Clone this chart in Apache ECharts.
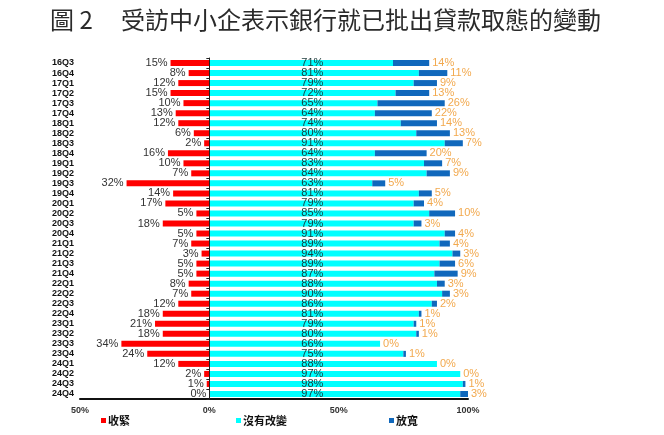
<!DOCTYPE html>
<html><head><meta charset="utf-8">
<script src="https://cdn.jsdelivr.net/npm/echarts@6/dist/echarts.min.js"></script>
<style>html,body{margin:0;padding:0;background:#fff}#c{width:664px;height:435px}</style>
</head><body><div id="c"></div>
<script>
const categories = ['16Q3','16Q4','17Q1','17Q2','17Q3','17Q4','18Q1','18Q2','18Q3','18Q4','19Q1','19Q2','19Q3','19Q4','20Q1','20Q2','20Q3','20Q4','21Q1','21Q2','21Q3','21Q4','22Q1','22Q2','22Q3','22Q4','23Q1','23Q2','23Q3','23Q4','24Q1','24Q2','24Q3','24Q4'];
const tighten = [15,8,12,15,10,13,12,6,2,16,10,7,32,14,17,5,18,5,7,3,5,5,8,7,12,18,21,18,34,24,12,2,1,0];
const noChange = [71,81,79,72,65,64,74,80,91,64,83,84,63,81,79,85,79,91,89,94,89,87,88,90,86,81,79,80,66,75,88,97,98,97];
const loosen = [14,11,9,13,26,22,14,13,7,20,7,9,5,5,4,10,3,4,4,3,6,9,3,3,2,1,1,1,0,1,0,0,1,3];
const xTicks = [-50, 0, 50, 100];
const titleNum = '圖 2';
const titleText = '受訪中小企表示銀行就已批出貸款取態的變動';

const chart = echarts.init(document.getElementById('c'));
const lblFont = {fontFamily: 'Arial, "Liberation Sans", sans-serif', fontSize: 11};
const legTxt = {fontSize: 11, fontWeight: 'bold', color: '#111', fontFamily: '"Noto Sans CJK TC"', padding: [0,0,0,-3]};
chart.setOption({
  animation: false,
  graphic: [
    {type: 'text', left: 50, top: 8, style: {text: titleNum, font: '24px "Noto Sans CJK TC"', fill: '#2a2a2a'}},
    {type: 'text', left: 121, top: 8, style: {text: titleText, font: '24px "Noto Sans CJK TC"', fill: '#2a2a2a'}}
  ],
  legend: [
    {data: ['收緊'], left: 96, top: 410, itemWidth: 5, itemHeight: 5, itemGap: 2, icon: 'rect', textStyle: legTxt},
    {data: ['沒有改變'], left: 231, top: 410, itemWidth: 5, itemHeight: 5, itemGap: 2, icon: 'rect', textStyle: legTxt},
    {data: ['放寬'], left: 384, top: 410, itemWidth: 5, itemHeight: 5, itemGap: 2, icon: 'rect', textStyle: legTxt}
  ],
  grid: {left: 80, right: 196, top: 58, bottom: 36, containLabel: false, outerBoundsMode: 'none'},
  xAxis: {
    type: 'value', min: xTicks[0], max: xTicks[xTicks.length - 1], interval: 50,
    axisLine: {show: true, onZero: false, lineStyle: {color: '#111', width: 2}},
    axisTick: {show: false}, splitLine: {show: false},
    axisLabel: {formatter: v => Math.abs(v) + '%', color: '#333', fontSize: 9, fontWeight: 'bold',
      fontFamily: 'Arial, "Liberation Sans", sans-serif', margin: 7}
  },
  yAxis: {
    type: 'category', data: categories, inverse: true, z: 10,
    axisLine: {show: true, onZero: true, lineStyle: {color: '#222', width: 1}},
    axisTick: {show: true, interval: 0, length: 3, lineStyle: {color: '#222'}},
    axisLabel: {interval: 0, color: '#111', fontSize: 9, fontWeight: 'bold',
      fontFamily: 'Arial, "Liberation Sans", sans-serif', margin: 6}
  },
  series: [
    {name: '收緊', type: 'bar', stack: 's', barWidth: 6,
     data: tighten.map(v => -v), itemStyle: {color: '#FF0000'},
     label: {show: true, position: 'left', distance: 3, color: '#333', ...lblFont,
       formatter: p => Math.abs(p.value) + '%'}},
    {name: '沒有改變', type: 'bar', stack: 's', barWidth: 6,
     data: noChange, itemStyle: {color: '#00FFFF'},
     label: {show: true, position: [103, '50%'], align: 'center', verticalAlign: 'middle', color: '#1a3a3a', ...lblFont,
       formatter: p => p.value + '%'}},
    {name: '放寬', type: 'bar', stack: 's', barWidth: 6,
     data: loosen, itemStyle: {color: '#1068BC'},
     label: {show: true, position: 'right', distance: 3, color: '#F2A94E', ...lblFont,
       formatter: p => p.value + '%'}}
  ]
});
</script></body></html>
